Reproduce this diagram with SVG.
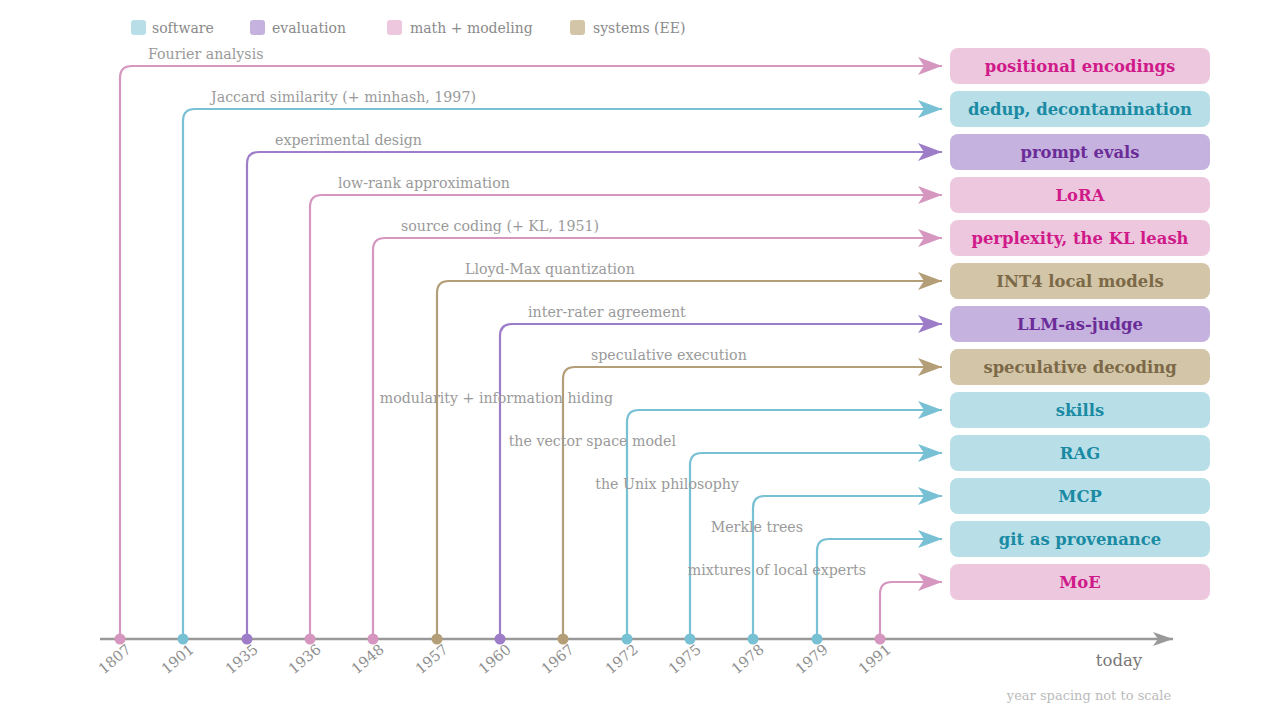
<svg xmlns="http://www.w3.org/2000/svg" width="1280" height="720" viewBox="0 0 1280 720">
<defs>
<style>
text{font-family:"DejaVu Serif","Liberation Serif",serif}
.leg{font-size:14px;fill:#8a8a8a}
.lbl{font-size:14.2px;fill:#9a9a9a}
.yr{font-size:14.5px;fill:#8f8f8f}
.node text{font-size:16.4px;font-weight:bold;text-anchor:middle}
.sw rect{fill:#b8dfe8}.sw text{fill:#1b8aa3}
.ev rect{fill:#c5b2de}.ev text{fill:#6b2c98}
.ma rect{fill:#ecc7de}.ma text{fill:#d01a8a}
.sy rect{fill:#d3c5a8}.sy text{fill:#7c6947}
.c{fill:none;stroke-width:2.2}
.csw{stroke:#78c0d4}.cev{stroke:#9d7dc8}.cma{stroke:#d596bf}.csy{stroke:#b39e77}
.dsw{fill:#78c0d4}.dev{fill:#9d7dc8}.dma{fill:#d596bf}.dsy{fill:#b39e77}
</style>
<marker id="asw" viewBox="0 0 24 18" refX="24" refY="9" markerWidth="24" markerHeight="18" markerUnits="userSpaceOnUse" orient="auto"><path d="M0,0 L24,9 L0,18 L6,9 z" fill="#78c0d4"/></marker>
<marker id="aev" viewBox="0 0 24 18" refX="24" refY="9" markerWidth="24" markerHeight="18" markerUnits="userSpaceOnUse" orient="auto"><path d="M0,0 L24,9 L0,18 L6,9 z" fill="#9d7dc8"/></marker>
<marker id="ama" viewBox="0 0 24 18" refX="24" refY="9" markerWidth="24" markerHeight="18" markerUnits="userSpaceOnUse" orient="auto"><path d="M0,0 L24,9 L0,18 L6,9 z" fill="#d596bf"/></marker>
<marker id="asy" viewBox="0 0 24 18" refX="24" refY="9" markerWidth="24" markerHeight="18" markerUnits="userSpaceOnUse" orient="auto"><path d="M0,0 L24,9 L0,18 L6,9 z" fill="#b39e77"/></marker>
<marker id="aax" viewBox="0 0 20 14" refX="20" refY="7" markerWidth="20" markerHeight="14" markerUnits="userSpaceOnUse" orient="auto"><path d="M0,0 L20,7 L0,14 L5,7 z" fill="#999"/></marker>
</defs>
<rect width="1280" height="720" fill="#fff"/>

<g id="legend">
<rect x="131" y="20" width="15" height="15" rx="3" fill="#b8dfe8"/><text class="leg" x="152" y="33">software</text>
<rect x="250" y="20" width="15" height="15" rx="3" fill="#c5b2de"/><text class="leg" x="272" y="33">evaluation</text>
<rect x="387" y="20" width="15" height="15" rx="3" fill="#ecc7de"/><text class="leg" x="410" y="33">math + modeling</text>
<rect x="570" y="20" width="15" height="15" rx="3" fill="#d3c5a8"/><text class="leg" x="593" y="33">systems (EE)</text>
</g>

<g id="axis">
<path d="M100,639 H1173" stroke="#999" stroke-width="2.5" fill="none" marker-end="url(#aax)"/>
<text x="1119" y="666" font-size="16.5" fill="#777" text-anchor="middle">today</text>
<text x="1089" y="700" font-size="13" fill="#bbb" text-anchor="middle">year spacing not to scale</text>
</g>

<g id="connectors">
<path class="c cma" d="M120,639 V78 Q120,66 132,66 H942" marker-end="url(#ama)"/>
<path class="c csw" d="M183,639 V121 Q183,109 195,109 H942" marker-end="url(#asw)"/>
<path class="c cev" d="M247,639 V164 Q247,152 259,152 H942" marker-end="url(#aev)"/>
<path class="c cma" d="M310,639 V207 Q310,195 322,195 H942" marker-end="url(#ama)"/>
<path class="c cma" d="M373,639 V250 Q373,238 385,238 H942" marker-end="url(#ama)"/>
<path class="c csy" d="M437,639 V293 Q437,281 449,281 H942" marker-end="url(#asy)"/>
<path class="c cev" d="M500,639 V336 Q500,324 512,324 H942" marker-end="url(#aev)"/>
<path class="c csy" d="M563,639 V379 Q563,367 575,367 H942" marker-end="url(#asy)"/>
<path class="c csw" d="M627,639 V422 Q627,410 639,410 H942" marker-end="url(#asw)"/>
<path class="c csw" d="M690,639 V465 Q690,453 702,453 H942" marker-end="url(#asw)"/>
<path class="c csw" d="M753,639 V508 Q753,496 765,496 H942" marker-end="url(#asw)"/>
<path class="c csw" d="M817,639 V551 Q817,539 829,539 H942" marker-end="url(#asw)"/>
<path class="c cma" d="M880,639 V594 Q880,582 892,582 H942" marker-end="url(#ama)"/>
</g>

<g id="connector-labels">
<text class="lbl" x="148" y="59">Fourier analysis</text>
<text class="lbl" x="211" y="102">Jaccard similarity (+ minhash, 1997)</text>
<text class="lbl" x="275" y="145">experimental design</text>
<text class="lbl" x="338" y="188">low-rank approximation</text>
<text class="lbl" x="401" y="231">source coding (+ KL, 1951)</text>
<text class="lbl" x="465" y="274">Lloyd-Max quantization</text>
<text class="lbl" x="528" y="317">inter-rater agreement</text>
<text class="lbl" x="591" y="360">speculative execution</text>
<text class="lbl" x="613" y="403" text-anchor="end">modularity + information hiding</text>
<text class="lbl" x="676" y="446" text-anchor="end">the vector space model</text>
<text class="lbl" x="739" y="489" text-anchor="end">the Unix philosophy</text>
<text class="lbl" x="803" y="532" text-anchor="end">Merkle trees</text>
<text class="lbl" x="866" y="575" text-anchor="end">mixtures of local experts</text>
</g>

<g id="years">
<circle class="dma" cx="120" cy="639" r="5.5"/><text class="yr" transform="translate(132,651) rotate(-40)" text-anchor="end">1807</text>
<circle class="dsw" cx="183" cy="639" r="5.5"/><text class="yr" transform="translate(195,651) rotate(-40)" text-anchor="end">1901</text>
<circle class="dev" cx="247" cy="639" r="5.5"/><text class="yr" transform="translate(259,651) rotate(-40)" text-anchor="end">1935</text>
<circle class="dma" cx="310" cy="639" r="5.5"/><text class="yr" transform="translate(322,651) rotate(-40)" text-anchor="end">1936</text>
<circle class="dma" cx="373" cy="639" r="5.5"/><text class="yr" transform="translate(385,651) rotate(-40)" text-anchor="end">1948</text>
<circle class="dsy" cx="437" cy="639" r="5.5"/><text class="yr" transform="translate(449,651) rotate(-40)" text-anchor="end">1957</text>
<circle class="dev" cx="500" cy="639" r="5.5"/><text class="yr" transform="translate(512,651) rotate(-40)" text-anchor="end">1960</text>
<circle class="dsy" cx="563" cy="639" r="5.5"/><text class="yr" transform="translate(575,651) rotate(-40)" text-anchor="end">1967</text>
<circle class="dsw" cx="627" cy="639" r="5.5"/><text class="yr" transform="translate(639,651) rotate(-40)" text-anchor="end">1972</text>
<circle class="dsw" cx="690" cy="639" r="5.5"/><text class="yr" transform="translate(702,651) rotate(-40)" text-anchor="end">1975</text>
<circle class="dsw" cx="753" cy="639" r="5.5"/><text class="yr" transform="translate(765,651) rotate(-40)" text-anchor="end">1978</text>
<circle class="dsw" cx="817" cy="639" r="5.5"/><text class="yr" transform="translate(829,651) rotate(-40)" text-anchor="end">1979</text>
<circle class="dma" cx="880" cy="639" r="5.5"/><text class="yr" transform="translate(892,651) rotate(-40)" text-anchor="end">1991</text>
</g>

<g id="n-positional" class="node ma"><rect x="950" y="48" width="260" height="36" rx="8"/><text x="1080" y="72">positional encodings</text></g>
<g id="n-dedup" class="node sw"><rect x="950" y="91" width="260" height="36" rx="8"/><text x="1080" y="115">dedup, decontamination</text></g>
<g id="n-prompt" class="node ev"><rect x="950" y="134" width="260" height="36" rx="8"/><text x="1080" y="158">prompt evals</text></g>
<g id="n-lora" class="node ma"><rect x="950" y="177" width="260" height="36" rx="8"/><text x="1080" y="201">LoRA</text></g>
<g id="n-perplexity" class="node ma"><rect x="950" y="220" width="260" height="36" rx="8"/><text x="1080" y="244">perplexity, the KL leash</text></g>
<g id="n-int4" class="node sy"><rect x="950" y="263" width="260" height="36" rx="8"/><text x="1080" y="287">INT4 local models</text></g>
<g id="n-judge" class="node ev"><rect x="950" y="306" width="260" height="36" rx="8"/><text x="1080" y="330">LLM-as-judge</text></g>
<g id="n-specdec" class="node sy"><rect x="950" y="349" width="260" height="36" rx="8"/><text x="1080" y="373">speculative decoding</text></g>
<g id="n-skills" class="node sw"><rect x="950" y="392" width="260" height="36" rx="8"/><text x="1080" y="416">skills</text></g>
<g id="n-rag" class="node sw"><rect x="950" y="435" width="260" height="36" rx="8"/><text x="1080" y="459">RAG</text></g>
<g id="n-mcp" class="node sw"><rect x="950" y="478" width="260" height="36" rx="8"/><text x="1080" y="502">MCP</text></g>
<g id="n-git" class="node sw"><rect x="950" y="521" width="260" height="36" rx="8"/><text x="1080" y="545">git as provenance</text></g>
<g id="n-moe" class="node ma"><rect x="950" y="564" width="260" height="36" rx="8"/><text x="1080" y="588">MoE</text></g>
</svg>
